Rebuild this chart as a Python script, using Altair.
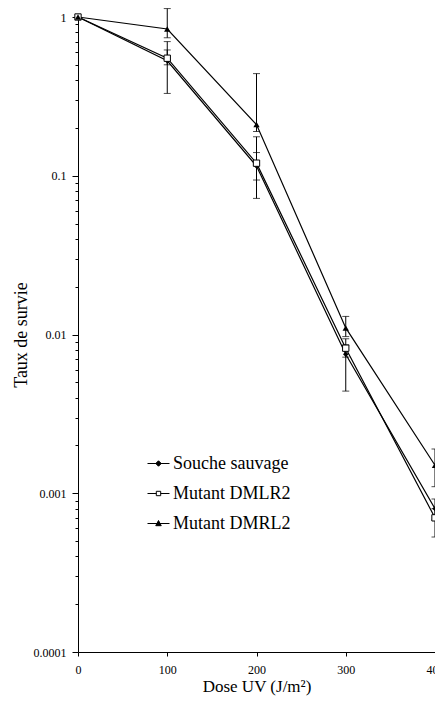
import altair as alt
import pandas as pd

dose = [0, 100, 200, 300, 400]
series_names = ["Souche sauvage", "Mutant DMLR2", "Mutant DMRL2"]

souche = [1, 0.53, 0.115, 0.0075, 0.0008]
souche_lo = [1, 0.33, 0.072, 0.0044, 0.00068]
souche_hi = [1, 0.70, 0.14, 0.0086, 0.00092]

dmlr2 = [1, 0.55, 0.12, 0.0082, 0.0007]
dmlr2_lo = [1, 0.50, 0.094, 0.0072, 0.00053]
dmlr2_hi = [1, 0.62, 0.176, 0.0094, 0.00080]

dmrl2 = [1, 0.84, 0.21, 0.011, 0.0015]
dmrl2_lo = [1, 0.74, 0.19, 0.0097, 0.0011]
dmrl2_hi = [1, 1.13, 0.44, 0.013, 0.0019]

major_ticks = [1, 0.1, 0.01, 0.001, 0.0001]
minor_ticks = [m * 10.0 ** e for e in range(-4, 0) for m in range(2, 10)]
x_ticks = [0, 100, 200, 300, 400]

rows = []
for name, v, lo, hi in [
    (series_names[0], souche, souche_lo, souche_hi),
    (series_names[1], dmlr2, dmlr2_lo, dmlr2_hi),
    (series_names[2], dmrl2, dmrl2_lo, dmrl2_hi),
]:
    for d, a, b, c in zip(dose, v, lo, hi):
        rows.append({"series": name, "dose": d, "taux": a, "lo": b, "hi": c})
df = pd.DataFrame(rows)
df_err = df[df["dose"] > 0]

major_test = "indexof([1,0.1,0.01,0.001,0.0001], datum.value) >= 0"

x_enc = alt.X(
    "dose:Q",
    scale=alt.Scale(domain=[0, 400], nice=False),
    axis=alt.Axis(
        values=x_ticks,
        title="Dose UV (J/m²)",
        tickSize=4,
        labelPadding=8,
        titlePadding=3,
        titleFontSize=17,
        labelFlush=False,
    ),
)
y_scale = alt.Scale(type="log", domain=[0.0001, 1], nice=False)
y_enc = alt.Y(
    "taux:Q",
    scale=y_scale,
    axis=alt.Axis(
        values=major_ticks + minor_ticks,
        labelExpr=f"{major_test} ? format(datum.value, '~g') : ''",
        tickSize={"condition": {"test": major_test, "value": 6}, "value": 3},
        title="Taux de survie",
        labelPadding=6,
        titlePadding=3,
    ),
)

base = alt.Chart(df)

lines = base.mark_line(color="black", strokeWidth=1.2).encode(
    x=x_enc, y=y_enc, detail="series:N"
)

err_base = alt.Chart(df_err)
err_rules = err_base.mark_rule(color="black", strokeWidth=1).encode(
    x="dose:Q", y=alt.Y("lo:Q", scale=y_scale), y2="hi:Q"
)
cap_lo = err_base.mark_tick(color="black", thickness=1, size=7, orient="horizontal").encode(
    x="dose:Q", y=alt.Y("lo:Q", scale=y_scale)
)
cap_hi = err_base.mark_tick(color="black", thickness=1, size=7, orient="horizontal").encode(
    x="dose:Q", y=alt.Y("hi:Q", scale=y_scale)
)

pts_souche = base.transform_filter(alt.datum.series == series_names[0]).mark_point(
    shape="diamond", filled=True, color="black", size=30, opacity=1
).encode(x="dose:Q", y=alt.Y("taux:Q", scale=y_scale))
pts_dmlr2 = base.transform_filter(alt.datum.series == series_names[1]).mark_point(
    shape="square", filled=True, fill="white", stroke="black", strokeWidth=1, size=40, opacity=1
).encode(x="dose:Q", y=alt.Y("taux:Q", scale=y_scale))
pts_dmrl2 = base.transform_filter(alt.datum.series == series_names[2]).mark_point(
    shape="triangle-up", filled=True, color="black", size=40, opacity=1
).encode(x="dose:Q", y=alt.Y("taux:Q", scale=y_scale))

legend_df = pd.DataFrame({"leg": series_names})
legend_shapes = [
    "M-1,0H1M0,-0.25L0.25,0L0,0.25L-0.25,0Z",
    "M-1,0H-0.2M0.2,0H1M-0.2,-0.2H0.2V0.2H-0.2Z",
    "M-1,0H1M0,-0.27L0.25,0.2H-0.25Z",
]
leg_kw = dict(title=None, symbolSize=484, symbolStrokeWidth=1)
legend_layer = alt.Chart(legend_df).mark_point(
    clip=True, size=484, strokeWidth=1, opacity=1, filled=False
).encode(
    x=alt.value(-300),
    y=alt.value(-300),
    shape=alt.Shape(
        "leg:N",
        scale=alt.Scale(domain=series_names, range=legend_shapes),
        legend=alt.Legend(**leg_kw),
    ),
    fill=alt.Fill(
        "leg:N",
        scale=alt.Scale(domain=series_names, range=["black", "white", "black"]),
        legend=alt.Legend(**leg_kw),
    ),
    stroke=alt.Stroke(
        "leg:N",
        scale=alt.Scale(domain=series_names, range=["black", "black", "black"]),
        legend=alt.Legend(**leg_kw),
    ),
)

chart = alt.layer(
    lines, err_rules, cap_lo, cap_hi, pts_souche, pts_dmlr2, pts_dmrl2, legend_layer
).properties(
    width=357,
    height=635,
    autosize=alt.AutoSizeParams(type="none"),
    padding={"left": 70, "top": 9, "right": 0, "bottom": 44},
).configure_view(stroke=None).configure_axis(
    domainColor="black",
    tickColor="black",
    labelColor="black",
    titleColor="black",
    labelFont="Liberation Serif",
    labelFontSize=12,
    titleFont="Liberation Serif",
    titleFontSize=18,
    titleFontWeight="normal",
    grid=False,
).configure_legend(
    orient="none",
    legendX=69,
    legendY=435,
    padding=0,
    labelFont="Liberation Serif",
    labelFontSize=18,
    labelColor="black",
    labelOffset=3,
    rowPadding=9,
)

chart.save("out.html", embed_options={"renderer": "svg", "actions": False})
